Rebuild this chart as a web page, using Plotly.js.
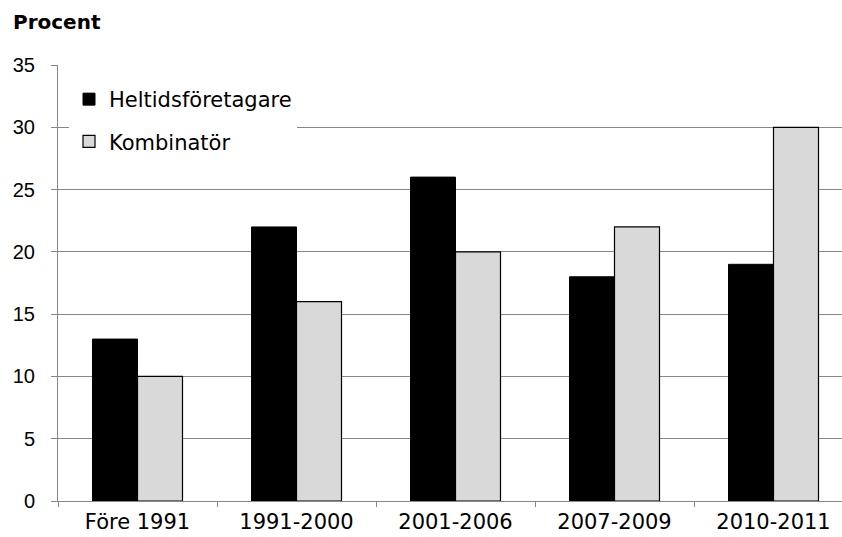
<!DOCTYPE html>
<html>
<head>
<meta charset="utf-8">
<script src="https://cdn.plot.ly/plotly-3.0.1.min.js"></script>
<style>html,body{margin:0;padding:0;background:#fff;}#chart{width:842px;height:537px;}</style>
</head>
<body>
<div id="chart"></div>
<script>
var categories = ["Före 1991", "1991-2000", "2001-2006", "2007-2009", "2010-2011"];
var heltid = [13, 22, 26, 18, 19];
var kombinator = [10, 16, 20, 22, 30];
var seriesNames = ["Heltidsföretagare", "Kombinatör"];
var yTicks = [0, 5, 10, 15, 20, 25, 30, 35];

var gridCol = "#878787";
var traces = [
  {type: "bar", name: seriesNames[0], x: categories, y: heltid, legendgroup: "a",
   marker: {color: "#000000", line: {color: "#000000", width: 1}}},
  {type: "bar", name: seriesNames[1], x: categories, y: kombinator, legendgroup: "b",
   marker: {color: "#d9d9d9", line: {color: "#000000", width: 1.2}}}
];
var layout = {
  width: 842, height: 537,
  margin: {l: 58, r: 0, t: 65, b: 36},
  paper_bgcolor: "#ffffff", plot_bgcolor: "#ffffff",
  barmode: "group", bargap: 0.434, bargroupgap: 0,
  font: {family: "DejaVu Sans", size: 20, color: "#000000"},
  title: {text: "<b>Procent</b>", x: 13/842, xanchor: "left", xref: "container",
          y: 1 - 22/537, yanchor: "middle", yref: "container",
          font: {family: "DejaVu Sans", size: 20, color: "#000000"}},
  showlegend: true,
  legend: {x: 11/784, xanchor: "left", y: (501-79)/436, yanchor: "top",
           bgcolor: "#ffffff", borderwidth: 0, traceorder: "grouped", tracegroupgap: 12,
           font: {family: "DejaVu Sans", size: 21, color: "#000000"}},
  xaxis: {type: "category", range: [-0.5, -0.5 + 784/159], showgrid: false,
          showline: true, linecolor: gridCol, linewidth: 1,
          ticks: "outside", tickson: "boundaries", ticklen: 5, tickcolor: gridCol,
          ticklabelstandoff: 2,
          tickfont: {family: "DejaVu Sans", size: 21, color: "#000000"}, fixedrange: true},
  yaxis: {range: [0, 35], tickvals: yTicks, ticktext: yTicks.map(String),
          showgrid: true, gridcolor: gridCol, gridwidth: 1, zeroline: false,
          showline: true, linecolor: gridCol, linewidth: 1,
          ticks: "outside", ticklen: 6, tickcolor: gridCol, ticklabelstandoff: 12,
          tickfont: {family: "Liberation Sans", size: 20, color: "#000000"}, fixedrange: true}
};
Plotly.newPlot("chart", traces, layout, {displayModeBar: false, staticPlot: true});
</script>
</body>
</html>
